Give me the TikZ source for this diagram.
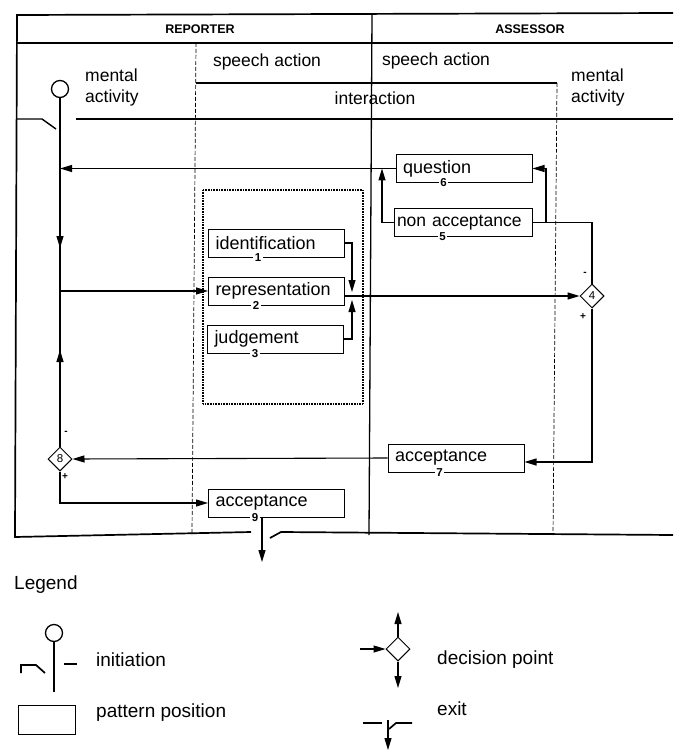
\documentclass[tikz,border=0pt]{standalone}
\usepackage{fontspec}
\setmainfont{Liberation Sans}
\usetikzlibrary{arrows.meta,shapes.geometric}
\begin{document}
\begin{tikzpicture}[x=1pt,y=-1pt]
\tikzset{
 lab/.style={font=\fontsize{17.5}{21}\selectfont, inner sep=0pt},
 hdr/.style={font=\bfseries\fontsize{12.5}{14}\selectfont, inner sep=0pt},
 leg/.style={font=\fontsize{19}{22}\selectfont, inner sep=0pt, anchor=west},
 pbox/.style={draw, line width=1pt, minimum width=136pt, minimum height=28pt, text width=122pt, align=left, inner xsep=7pt, inner ysep=3pt, font=\fontsize{18}{20}\selectfont},
 widebox/.style={pbox, inner xsep=3pt, text width=132pt, font=\fontsize{17.5}{20}\selectfont},
 num/.style={fill=white, inner sep=1.5pt, font=\bfseries\fontsize{11.5}{11.5}\selectfont},
 dec/.style={draw, diamond, minimum width=24pt, minimum height=24pt, inner sep=0pt, font=\fontsize{11.5}{11.5}\selectfont, line width=1pt},
 sgn/.style={inner sep=0pt, font=\bfseries\fontsize{10}{10}\selectfont},
 conn/.style={line width=1.1pt},
 arr/.style={conn, -{Triangle[length=12pt,width=7pt]}},
 frame/.style={line width=1.7pt},
 lane/.style={line width=0.7pt, dash pattern=on 4pt off 2pt},
 dotbox/.style={line width=1.4pt, dash pattern=on 0.8pt off 0.8pt},
}
\useasboundingbox (0,0) rectangle (673,751);

% frame and header
\draw[frame] (673,13) -- (17,15) -- (15,537) -- (251,532);
\draw[frame] (270,538) -- (281,532) -- (673,535);
\draw[frame] (17,43) -- (673,43);
\draw[line width=1.3pt] (372,15) -- (369,535);
\draw[line width=1.3pt] (196,83) -- (557,83);
\draw[frame] (76,119) -- (673,119);
\draw[lane] (196,43) -- (192,535);
\draw[lane] (557,83) -- (553,535);

\node[hdr] (rep) at (200,29) {REPORTER};
\node[hdr] (ass) at (530,29) {ASSESSOR};
\node[lab] (sa1) at (267,62) {speech action};
\node[lab] (sa2) at (436,61) {speech action};
\node[lab] (inter) at (375,98) {interaction};
\node[lab, anchor=west, align=left] (ma1) at (85,87) {mental\\activity};
\node[lab, anchor=west, align=left] (ma2) at (571,87) {mental\\activity};

% initiation
\node[draw, circle, line width=1.3pt, minimum size=17pt, inner sep=0pt] (init) at (60,89) {};
\draw[line width=1.4pt] (17,119) -- (42,119) -- (56,129);

% dotted pattern group
\draw[dotbox] (203,190) rectangle (363,404);

% pattern positions
\node[pbox] (ident) at (276.5,243) {identification};
\node[pbox] (repr) at (276.5,291) {representation};
\node[pbox] (judg) at (275.5,339) {judgement};
\node[pbox] (quest) at (464,168.5) {question};
\node[widebox] (nacc) at (463,222.5) {non acceptance};
\node[pbox] (acc7) at (456,458) {acceptance};
\node[pbox] (acc9) at (276.5,503) {acceptance};
\node[num] at ([xshift=50pt]ident.south west) {1};
\node[num] at ([xshift=48pt]repr.south west) {2};
\node[num] at ([xshift=48pt]judg.south west) {3};
\node[num] at ([xshift=48pt]quest.south west) {6};
\node[num] at ([xshift=49pt]nacc.south west) {5};
\node[num] at ([xshift=52pt]acc7.south west) {7};
\node[num] at ([xshift=47pt]acc9.south west) {9};

% decision points
\node[dec] (d4) at (592,296) {4};
\node[dec] (d8) at (60,459) {8};
\node[sgn] at (585,274) {-};
\node[sgn] at (583,317) {+};
\node[sgn] at (66,433) {-};
\node[sgn] at (65,477) {+};

% coordinates
\coordinate (mvq) at (quest.west -| init);
\coordinate (mvr) at (repr.west -| init);
\coordinate (qj) at (382,168.5);
\coordinate (split) at (546,222.5);
\coordinate (bdn) at (352,292);
\coordinate (bup) at (352,300);
\coordinate (exitend) at (262,562);

% main vertical
\draw[conn] (init.south) -- (mvr);
\draw[arr] (init.south) -- (60,248);
\draw[conn] (d8.north) -- (mvr);
\draw[arr] (d8.north) -- (60,350);

% connectors
\draw[arr] (quest.west) -- (mvq);
\draw[arr] (mvr) -- (repr.west);
\draw[arr] (repr.east |- d4) -- (d4.west);
\draw[arr] (ident.east) -| (bdn);
\draw[arr] (judg.east) -| (bup);
\draw[arr] (nacc.west) -| (qj);
\draw[conn] (d4.north) |- (nacc.east);
\draw[arr] (split) |- (quest.east);
\draw[arr] (d4.south) |- ([yshift=-4pt]acc7.east);
\draw[arr] (acc7.west) -- (d8.east);
\draw[arr] (d8.south) |- (acc9.west);
\draw[arr] ([xshift=54pt]acc9.south west) -- (exitend);

% legend
\node[leg] (legend) at (14,585) {Legend};
\node[draw, circle, line width=1.3pt, minimum size=17pt, inner sep=0pt] (linit) at (54,633) {};
\draw[line width=1.3pt] (linit.south) -- (54,692);
\draw[line width=1.7pt] (21,673) -- (21,665) -- (36,665) -- (45,673);
\draw[line width=1.7pt] (64,664) -- (77,664);
\node[leg] (tinit) at (96,660) {initiation};
\node[draw, line width=1pt, minimum width=57pt, minimum height=29pt, inner sep=0pt] (lbox) at (46.5,719.5) {};
\node[leg] (tpat) at (96,713) {pattern position};

\node[dec] (ldec) at (398,649) {};
\coordinate (ldin) at (360,649);
\coordinate (ldup) at (398,612);
\coordinate (lddn) at (398,688);
\draw[arr] (ldin) -- (ldec.west);
\draw[arr] (ldec.north) -- (ldup);
\draw[arr] (ldec.south) -- (lddn);
\node[leg] (tdec) at (437,660) {decision point};

\draw[line width=1.7pt] (363,723) -- (382,723);
\draw[line width=1.7pt] (389,729) -- (396,723) -- (412,723);
\coordinate (lex1) at (388,720);
\coordinate (lex2) at (388,750);
\draw[arr] (lex1) -- (lex2);
\node[leg] (texit) at (437,709) {exit};
\end{tikzpicture}
\end{document}
